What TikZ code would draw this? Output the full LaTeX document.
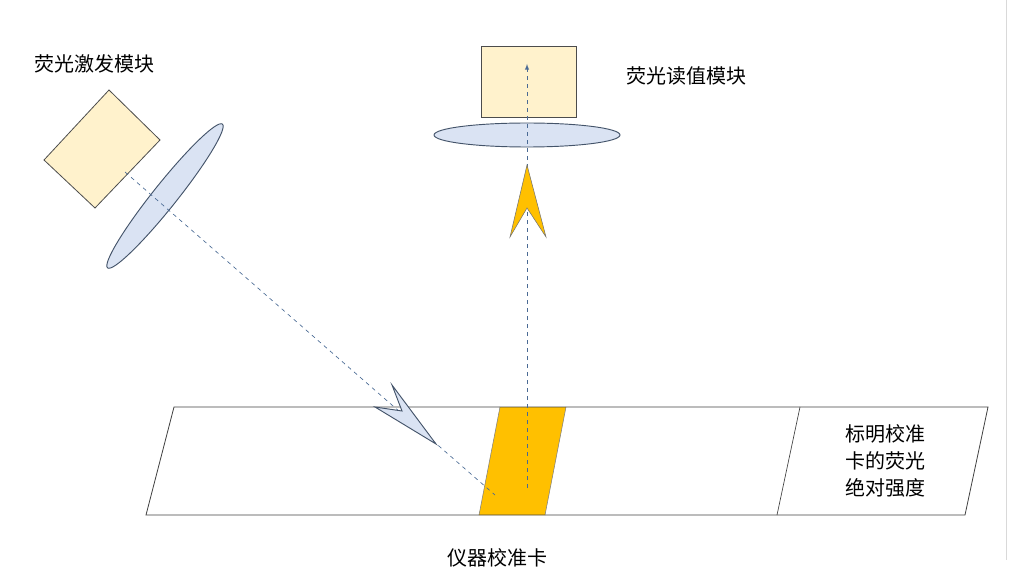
\documentclass[tikz,border=0pt]{standalone}
\usepackage{fontspec}
\setmainfont{Noto Sans CJK SC}
\definecolor{boxf}{HTML}{FFF2CC}
\definecolor{lensf}{HTML}{DAE3F3}
\definecolor{lensd}{HTML}{44546A}
\definecolor{gold}{HTML}{FFC000}
\definecolor{beamc}{HTML}{4A6A94}
\begin{document}
\begin{tikzpicture}[x=0.75pt,y=-0.75pt,
  lbl/.style={font=\fontsize{15}{20}\selectfont,align=center,inner sep=0},
  box/.style={draw=black!70,fill=boxf,line width=0.6pt},
  lens/.style={draw=lensd,fill=lensf,line width=0.7pt},
  beam/.style={dashed,draw=beamc,line width=0.5pt}]
\useasboundingbox (0,0) rectangle (1012,584);
\draw[black!15] (1006,0) -- (1006,560);
% strip
\fill[gold] (500,407) -- (566,407) -- (545,515) -- (479,515) -- cycle;
\draw[black!50,line width=0.4pt] (500,407) -- (479,515) (566,407) -- (545,515);
\draw[black!75,line width=0.6pt] (174,407) -- (988,407) -- (965,515) -- (146,515) -- cycle;
\draw[black!75,line width=0.5pt] (800,407) -- (777,515);
\node[lbl] (cardtxt) at (885,461) {标明校准\\卡的荧光\\绝对强度};
\node[lbl] (card) at (497,558) {仪器校准卡};
% excitation
\draw[box] (109,90) -- (160,140) -- (95,208) -- (44,160) -- cycle;
\draw[lens,rotate around={51.4:(165,196)}] (165,196) ellipse [x radius=92, y radius=12];
\coordinate (s1) at (125,172);
\coordinate (e1) at (495,495);
\draw[beam] (s1) -- (e1);
\draw[lens] (436,444) -- (392,385) -- (402,411) -- (375,407) -- cycle;
\node[lbl] (exc) at (94,64) {荧光激发模块};
% reading
\draw[box] (481,46) rectangle (576,117);
\draw[lens] (527,135) ellipse [x radius=93, y radius=12];
\coordinate (s2) at (527,488);
\coordinate (e2) at (527,64);
\draw[beam,-latex] (s2) -- (e2);
\draw[fill=gold,draw=black!55,line width=0.4pt] (527,165) -- (546,237) -- (527,208) -- (510,237) -- cycle;
\node[lbl] (rd) at (686,76) {荧光读值模块};
\end{tikzpicture}
\end{document}
